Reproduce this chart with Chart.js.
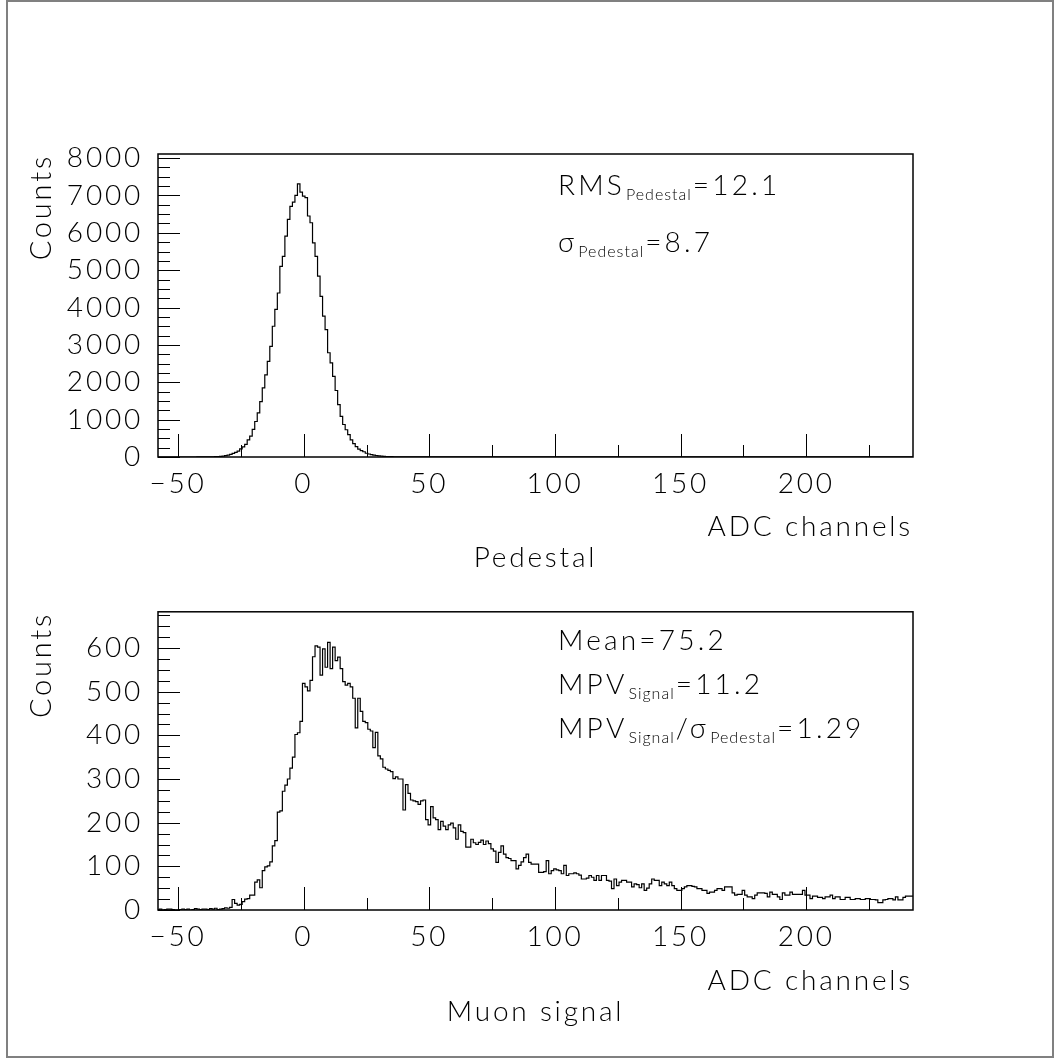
<!DOCTYPE html>
<html>
<head>
<meta charset="utf-8">
<script src="https://cdn.jsdelivr.net/npm/chart.js@4.4.1/dist/chart.umd.min.js"></script>
<style>
  html, body { margin: 0; padding: 0; background: #fff; }
  #page { position: relative; width: 1055px; height: 1059px; overflow: hidden; }
  #frame { position: absolute; left: 6px; top: 0; width: 1048px; height: 1058px; border: 2px solid #808080; box-sizing: border-box; }
  canvas { position: absolute; left: 0; }
</style>
</head>
<body>
<div id="page">
  <div id="frame"></div>
  <canvas id="pedChart" width="1055" height="600" style="top:0"></canvas>
  <canvas id="muonChart" width="1055" height="479" style="top:580px"></canvas>
</div>
<script>
// histograms, 1 ADC channel per bin, first bin centred on -58
const binStart = -58;
const xMin = -58, xMax = 242.5;
const xTicks = [-50, -25, 0, 25, 50, 75, 100, 125, 150, 175, 200, 225];

const pedCounts = [
  0, 0, 0, 0, 0, 0, 0, 0, 0, 0, 0, 0, 0, 0, 0, 0, 0, 1, 1, 2, 2,
  3, 4, 6, 9, 13, 18, 25, 35, 50, 70,
  95, 125, 155, 220, 270, 340, 460, 560, 740, 950,
  1180, 1480, 1850, 2200, 2560, 2960, 3500, 3950, 4390, 5100,
  5370, 5910, 6360, 6710, 6820, 7000, 7310, 7090, 6980, 6940,
  6450, 6270, 5730, 5370, 4840, 4300, 3770, 3410, 2790, 2520,
  2160, 1780, 1400, 1090, 870, 730, 600, 460, 360, 280,
  210, 170, 140, 100, 80, 65, 50, 40, 30, 24,
  18, 14, 10, 8, 6, 5, 4, 3, 3, 2, 2, 1, 1
];

const muonCounts = [
  2, 1, 2, 0, 1, 2, 2, 1, 0, 0,
  1, 2, 1, 2, 0, 1, 3, 2, 1, 2,
  2, 1, 3, 2, 4, 1, 2, 3, 5, 4,
  6, 24, 15, 11, 13, 19, 25, 26, 34, 34,
  64, 69, 51, 90, 99, 101, 110, 147, 159, 224,
  227, 272, 286, 300, 325, 350, 402, 406, 432, 519,
  511, 502, 526, 580, 605, 602, 538, 598, 556, 613,
  553, 602, 571, 579, 553, 523, 515, 519, 511, 485,
  417, 485, 455, 432, 429, 414, 410, 372, 407, 353,
  346, 327, 323, 320, 317, 301, 305, 300, 300, 229,
  287, 267, 252, 250, 248, 242, 250, 252, 207, 195,
  237, 211, 207, 184, 203, 192, 184, 195, 199, 188,
  162, 195, 180, 177, 144, 144, 162, 154, 150, 155,
  160, 150, 158, 152, 140, 135, 109, 132, 147, 128,
  120, 118, 113, 113, 94, 102, 110, 120, 128, 109,
  105, 105, 105, 86, 86, 88, 113, 83, 90, 94,
  92, 90, 83, 102, 79, 83, 83, 85, 83, 80,
  71, 71, 73, 79, 75, 68, 79, 68, 79, 79,
  68, 66, 49, 71, 56, 64, 68, 68, 64, 64,
  53, 60, 58, 51, 60, 45, 50, 60, 71, 68,
  68, 56, 64, 60, 56, 64, 56, 49, 45, 45,
  49, 53, 56, 56, 54, 53, 49, 49, 45, 45,
  38, 41, 41, 45, 49, 49, 45, 53, 53, 53,
  39, 34, 36, 36, 45, 34, 30, 30, 26, 34,
  39, 39, 39, 38, 30, 41, 36, 36, 30, 24,
  39, 34, 34, 41, 36, 36, 36, 36, 45, 34,
  34, 26, 32, 32, 29, 29, 26, 30, 30, 34,
  26, 30, 30, 24, 24, 29, 29, 24, 24, 26,
  26, 24, 24, 26, 26, 24, 24, 23, 17, 17,
  23, 24, 26, 26, 23, 30, 23, 23, 29, 32,
  32
];

const pedNotes = [
  { dy: 41, parts: [{ text: 'RMS' }, { text: 'Pedestal', sub: true }, { text: '=12.1' }] },
  { dy: 98, parts: [{ text: 'σ' }, { text: 'Pedestal', sub: true }, { text: '=8.7' }] }
];
const muonNotes = [
  { dy: 38, parts: [{ text: 'Mean=75.2' }] },
  { dy: 82, parts: [{ text: 'MPV' }, { text: 'Signal', sub: true }, { text: '=11.2' }] },
  { dy: 126, parts: [{ text: 'MPV' }, { text: 'Signal', sub: true }, { text: '/σ' }, { text: 'Pedestal', sub: true }, { text: '=1.29' }] }
];

const FONT = 'Lato';
const font = (size, lh) => ({ family: FONT, size: size, weight: 300, lineHeight: lh || 1.2 });

function toSteps(counts) {
  const pts = counts.map((c, i) => ({ x: binStart - 0.5 + i, y: c }));
  pts.push({ x: xMax, y: counts[counts.length - 1] });
  return pts;
}

const spacing = {
  id: 'spacing',
  beforeDraw(chart) { chart.ctx.letterSpacing = '2.8px'; }
};

// ROOT style: ticks drawn inside the frame
const frameTicks = {
  id: 'frameTicks',
  afterDatasetsDraw(chart, args, opts) {
    const { ctx, chartArea: a, scales: { x, y } } = chart;
    ctx.save();
    ctx.strokeStyle = '#000';
    ctx.lineWidth = 1;
    ctx.beginPath();
    x.ticks.forEach(t => {
      const px = Math.round(x.getPixelForValue(t.value)) + 0.5;
      const len = t.value % 50 === 0 ? 23 : 12;
      ctx.moveTo(px, a.bottom);
      ctx.lineTo(px, a.bottom - len);
    });
    y.ticks.forEach(t => {
      const py = Math.round(y.getPixelForValue(t.value)) + 0.5;
      const len = t.value % opts.major === 0 ? 22 : 12;
      ctx.moveTo(a.left, py);
      ctx.lineTo(a.left + len, py);
    });
    ctx.stroke();
    ctx.lineWidth = 1.5;
    ctx.strokeRect(a.left, a.top, a.right - a.left, a.bottom - a.top);
    ctx.restore();
  }
};

const notes = {
  id: 'notes',
  afterDraw(chart, args, opts) {
    const { ctx, chartArea: a } = chart;
    ctx.save();
    ctx.fillStyle = '#000';
    ctx.textAlign = 'left';
    ctx.textBaseline = 'alphabetic';
    opts.lines.forEach(line => {
      let x = a.left + 400;
      const base = a.top + line.dy;
      line.parts.forEach(p => {
        ctx.font = `300 ${p.sub ? 16 : 28}px ${FONT}`;
        ctx.letterSpacing = p.sub ? '1px' : '3.2px';
        ctx.fillText(p.text, x, base + (p.sub ? 5 : 0));
        x += ctx.measureText(p.text).width + 1;
      });
    });
    ctx.restore();
  }
};

const label = v => (v < 0 ? '\u2212' + Math.abs(v) : String(v));

function histChart(id, counts, cfg) {
  return new Chart(document.getElementById(id).getContext('2d'), {
    type: 'line',
    data: {
      datasets: [{
        data: toSteps(counts),
        stepped: 'after',
        borderColor: '#000',
        borderWidth: 1.2,
        pointRadius: 0,
        fill: false
      }]
    },
    options: {
      responsive: false,
      animation: false,
      events: [],
      layout: { padding: { left: 0, right: 142, top: cfg.padTop, bottom: 0 } },
      plugins: {
        legend: { display: false },
        tooltip: { enabled: false },
        frameTicks: { major: cfg.yMajor },
        notes: { lines: cfg.notes }
      },
      scales: {
        x: {
          type: 'linear', min: xMin, max: xMax, weight: 0,
          grid: { display: false, drawTicks: false }, border: { display: false },
          afterBuildTicks(s) { s.ticks = xTicks.map(v => ({ value: v })); },
          ticks: {
            autoSkip: false, maxRotation: 0, minRotation: 0,
            padding: 10, color: '#000', font: font(28),
            callback: v => (v % 50 === 0 ? label(v) : '')
          },
          title: { display: true, text: 'ADC channels', align: 'end', color: '#000', font: font(28, 1), padding: 0 },
          afterFit(s) { s.height = cfg.xHeight; }
        },
        x2: {
          type: 'linear', position: 'bottom', weight: 1,
          grid: { display: false, drawTicks: false }, border: { display: false },
          ticks: { display: false },
          title: { display: true, text: cfg.title, align: 'center', color: '#000', font: font(28), padding: { top: 0, bottom: cfg.titlePad } },
          afterFit(s) { s.height = cfg.x2Height; }
        },
        y: {
          min: 0, max: cfg.yMax,
          grid: { display: false, drawTicks: false }, border: { display: false },
          ticks: {
            stepSize: cfg.yStep, includeBounds: false, autoSkip: false,
            padding: 15, color: '#000', font: font(28),
            callback: v => (v % cfg.yMajor === 0 ? String(v) : '')
          },
          title: { display: true, text: 'Counts', align: 'end', color: '#000', font: font(29), padding: { top: 24, bottom: 0 } },
          afterFit(s) { s.width = 158; }
        }
      }
    },
    plugins: [spacing, frameTicks, notes]
  });
}

histChart('pedChart', pedCounts, {
  padTop: 154, xHeight: 84.4, x2Height: 58.6, titlePad: 25.2,
  yMax: 8110, yStep: 250, yMajor: 1000, title: 'Pedestal', notes: pedNotes
});

histChart('muonChart', muonCounts, {
  padTop: 27, xHeight: 85.2, x2Height: 63.8, titlePad: 30.2,
  yMax: 683, yStep: 25, yMajor: 100, title: 'Muon signal', notes: muonNotes
});
</script>
</body>
</html>
